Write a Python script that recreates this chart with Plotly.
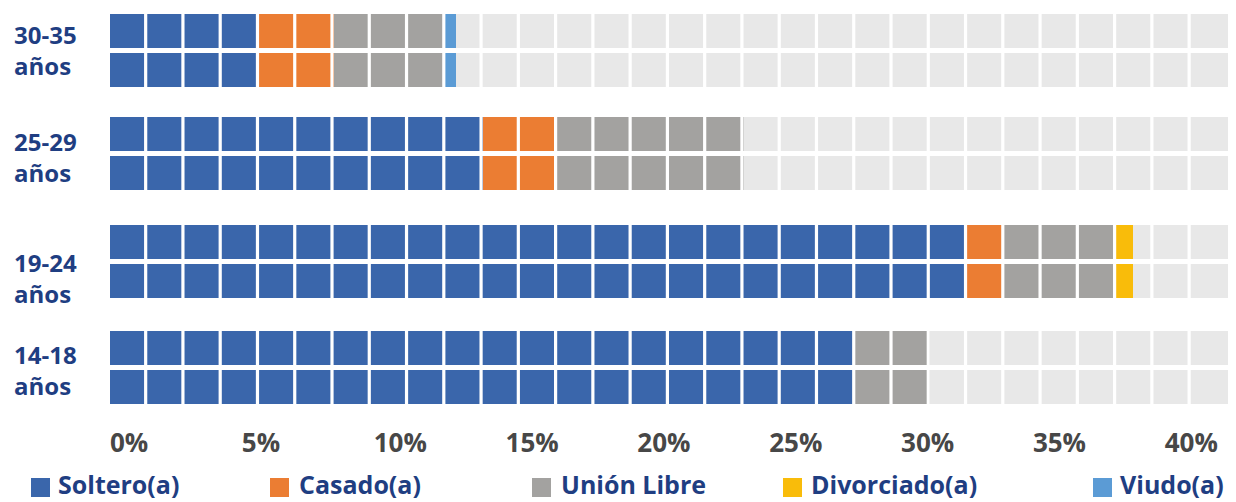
import plotly.graph_objects as go
import numpy as np

# ---------------- data ----------------
groups = ["30-35", "25-29", "19-24", "14-18"]          # top to bottom
series_names = ["Soltero(a)", "Casado(a)", "Unión Libre", "Divorciado(a)", "Viudo(a)"]
soltero    = [5.65, 14.13, 32.50, 28.27]
casado     = [2.83, 2.83, 1.41, 0.00]
union      = [4.24, 7.07, 4.24, 2.83]
divorciado = [0.00, 0.00, 0.65, 0.00]
viudo      = [0.40, 0.00, 0.00, 0.00]
tick_vals  = [0, 5, 10, 15, 20, 25, 30, 35, 40]
tick_text  = ["0%", "5%", "10%", "15%", "20%", "25%", "30%", "35%", "40%"]

# ---------------- style ----------------
colors = ["#3A66AB", "#EB7D33", "#A3A2A0", "#F9BC0A", "#5B9BD5"]
bg_color = "#E8E8E8"
label_color = "#1F3E82"
tick_color = "#474747"
FONT = "Open Sans"

OFF = 8                      # page body margin of the html page
W, H = 1236 - OFF, 502 - OFF
PLOT_L, PLOT_R, PLOT_T, PLOT_B = 110, 1228, 8, 428      # page pixels
ML, MR = PLOT_L - OFF, (W + OFF) - PLOT_R
MT, MB = PLOT_T - OFF, (H + OFF) - PLOT_B
PW, PH = PLOT_R - PLOT_L, PLOT_B - PLOT_T
XMAX = 42.4                 # axis end (30 tiles)
N_TILES = 30
TILE = XMAX / N_TILES
px_per_unit = PW / XMAX

group_center = [50.5, 153.5, 261.5, 367.5]      # page pixel rows (style)
row_off = 19.5
bar_w = 34
label_mid = [50, 156.5, 277.5, 369.5]
legend_sq_x = [31, 270, 532, 783, 1093]
legend_tx_x = [56, 297, 559, 809, 1118]
legend_sq_y = 487.5
legend_tx_y = 483.5

def px2paper_x(px):
    return (px - PLOT_L) / PW

def px2paper_y(py):
    return (PLOT_B - py) / PH

# rows: every group drawn twice
row_y = []
row_idx = []
for gi, c in enumerate(group_center):
    row_y += [c - row_off, c + row_off]
    row_idx += [gi, gi]

series = [soltero, casado, union, divorciado, viudo]
vals = np.array(series, dtype=float)           # (5, 4)
bases = np.vstack([np.zeros(vals.shape[1]), np.cumsum(vals, axis=0)[:-1]])

fig = go.Figure()
# light grey background tiles
fig.add_trace(go.Bar(
    x=[XMAX] * len(row_y), y=row_y, orientation="h", width=bar_w,
    marker=dict(color=bg_color, line=dict(width=0)), showlegend=False, hoverinfo="skip"))

for si, name in enumerate(series_names):
    xs = [vals[si, g] for g in row_idx]
    bs = [bases[si, g] for g in row_idx]
    fig.add_trace(go.Bar(
        name=name, x=xs, base=bs, y=row_y, orientation="h", width=bar_w,
        marker=dict(color=colors[si], line=dict(width=0)), showlegend=False,
        hovertemplate=name + ": %{x:.1f}%<extra></extra>"))

shapes = []
# white gaps between tiles
gap_px = 3.2
for k in range(1, N_TILES):
    xk = k * TILE - (gap_px / 2) / px_per_unit
    shapes.append(dict(type="line", xref="x", yref="paper", x0=xk, x1=xk, y0=0, y1=1,
                       line=dict(color="white", width=gap_px), layer="above"))

annotations = []
for gi, g in enumerate(groups):
    annotations.append(dict(text=g + "<br>años", xref="paper", yref="y", x=px2paper_x(12),
                            y=label_mid[gi], xanchor="left", yanchor="middle", align="left",
                            showarrow=False,
                            font=dict(family=FONT, size=24, color=label_color, weight=700)))

# manual legend
sq = 19
for si, name in enumerate(series_names):
    x0 = legend_sq_x[si]
    shapes.append(dict(type="rect", xref="paper", yref="paper",
                       x0=px2paper_x(x0), x1=px2paper_x(x0 + sq),
                       y0=px2paper_y(legend_sq_y - sq / 2), y1=px2paper_y(legend_sq_y + sq / 2),
                       fillcolor=colors[si], line=dict(width=0)))
    annotations.append(dict(text=name, xref="paper", yref="paper", x=px2paper_x(legend_tx_x[si]),
                            y=px2paper_y(legend_tx_y), xanchor="left", yanchor="middle",
                            showarrow=False,
                            font=dict(family=FONT, size=25, color=label_color, weight=700)))

fig.update_layout(
    width=W, height=H, margin=dict(l=ML, r=MR, t=MT, b=MB, pad=0),
    barmode="overlay", bargap=0,
    plot_bgcolor="white", paper_bgcolor="white",
    shapes=shapes, annotations=annotations, showlegend=False,
    xaxis=dict(range=[0, XMAX], tickvals=tick_vals, ticktext=tick_text,
               showgrid=False, zeroline=False, showline=False, ticks="",
               ticklabelposition="outside right", ticklabelstandoff=-3,
               tickfont=dict(family=FONT, size=26, color=tick_color, weight=700),
               fixedrange=True),
    yaxis=dict(range=[PLOT_B, PLOT_T], showticklabels=False, showgrid=False, zeroline=False,
               showline=False, ticks="", fixedrange=True),
)

fig.write_html("out.html")
